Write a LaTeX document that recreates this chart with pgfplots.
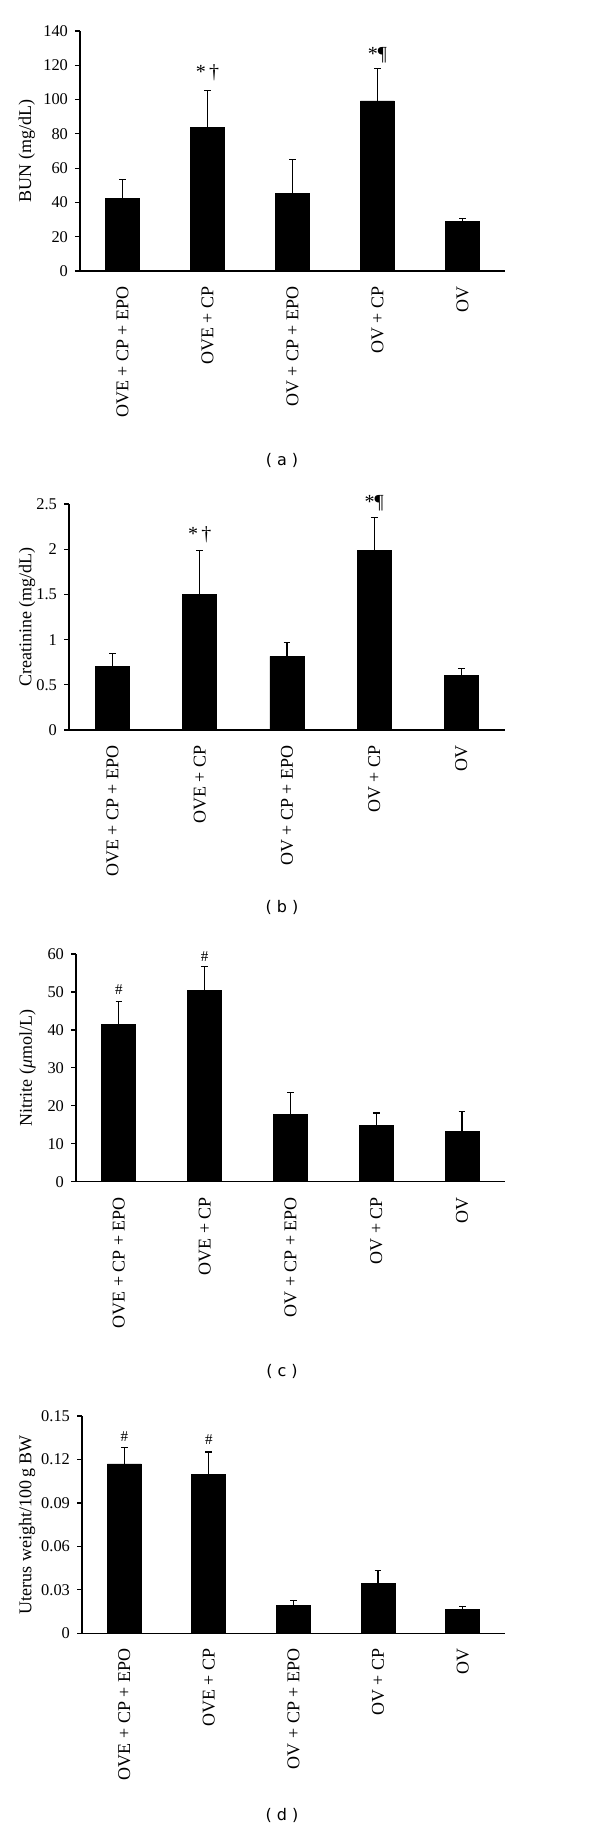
\documentclass[border=0pt]{standalone}
\usepackage{fontspec}
\setmainfont{Liberation Serif}
\newfontfamily\panelfont{DejaVu Sans}
\usepackage{pgfplots}
\pgfplotsset{compat=1.18}
\pgfplotsset{
  panel/.style={
    scale only axis,
    axis x line*=bottom, axis y line*=left,
    axis line style={-, line width=0.6pt, black},
    xmin=-0.5, xmax=4.5, ymin=0,
    xtick={0,1,2,3,4},
    xticklabels={OVE + CP + EPO, OVE + CP, OV + CP + EPO, OV + CP, OV},
    xtick style={draw=none},
    tick align=outside, major tick length=2.5pt,
    ytick style={line width=0.6pt, black},
    xticklabel style={rotate=90, anchor=east, font=\fontsize{9}{10}\selectfont, inner sep=0pt, inner xsep=5pt},
    yticklabel style={font=\fontsize{8.2}{9}\selectfont},
    ylabel style={font=\fontsize{9}{10}\selectfont, rotate=0, anchor=center},
    clip=false,
    ybar, bar width=17pt,
  },
  bars/.style={fill=black, draw=black,
    error bars/.cd, y dir=plus, y explicit,
    error bar style={line width=0.6pt, black},
    error mark options={rotate=90, mark size=1.7pt, line width=0.6pt, black}},
}
\begin{document}
\begin{tikzpicture}
\useasboundingbox (0,0) rectangle (300pt,-915pt);
% (a)
\begin{axis}[panel, at={(40pt,-135.5pt)}, anchor=south west,
  width=212.5pt, height=120pt, ymax=140,
  ytick={0,20,40,60,80,100,120,140},
  yticklabels={0,20,40,60,80,100,120,140},
  ylabel={BUN (mg/dL)},
  ylabel style={at={(axis description cs:-0.125,0.5)}}]
\addplot[bars] coordinates {(0,42.1) +- (0,11.5) (1,83.5) +- (0,21.9) (2,45.0) +- (0,19.9) (3,99.2) +- (0,18.9) (4,29.1) +- (0,1.6)};
\node[font=\fontsize{10}{11}\selectfont] at (axis cs:1,115.5) {*\,†};
\node[font=\fontsize{10}{11}\selectfont] at (axis cs:3,126) {*¶};
\end{axis}
\node[font=\panelfont\fontsize{8}{9}\selectfont] at (141pt,-230pt) {( a )};
% (b)
\begin{axis}[panel, at={(34.5pt,-365pt)}, anchor=south west,
  width=218pt, height=113pt, ymax=2.5,
  ytick={0,0.5,1,1.5,2,2.5},
  yticklabels={0,0.5,1,1.5,2,2.5},
  ylabel={Creatinine (mg/dL)},
  ylabel style={at={(axis description cs:-0.096,0.5)}}]
\addplot[bars] coordinates {(0,0.70) +- (0,0.148) (1,1.497) +- (0,0.49) (2,0.815) +- (0,0.155) (3,1.984) +- (0,0.366) (4,0.608) +- (0,0.074)};
\node[font=\fontsize{10}{11}\selectfont] at (axis cs:1,2.157) {*\,†};
\node[font=\fontsize{10}{11}\selectfont] at (axis cs:3,2.51) {*¶};
\end{axis}
\node[font=\panelfont\fontsize{8}{9}\selectfont] at (141pt,-453.5pt) {( b )};
% (c)
\begin{axis}[panel, at={(38pt,-590.85pt)}, anchor=south west,
  width=214.5pt, height=113.85pt, ymax=60,
  ytick={0,10,20,30,40,50,60},
  yticklabels={0,10,20,30,40,50,60},
  ylabel={Nitrite (\textit{μ}mol/L)},
  ylabel style={at={(axis description cs:-0.113,0.5)}}]
\addplot[bars] coordinates {(0,41.5) +- (0,5.9) (1,50.3) +- (0,6.4) (2,17.75) +- (0,5.75) (3,14.8) +- (0,3.3) (4,13.2) +- (0,5.4)};
\node[font=\fontsize{7.5}{8}\selectfont] at (axis cs:0,50.5) {\#};
\node[font=\fontsize{7.5}{8}\selectfont] at (axis cs:1,59.2) {\#};
\end{axis}
\node[font=\panelfont\fontsize{8}{9}\selectfont] at (141pt,-685.5pt) {( c )};
% (d)
\begin{axis}[panel, at={(41pt,-816.65pt)}, anchor=south west,
  width=211.5pt, height=108.65pt, ymax=0.15,
  ytick={0,0.03,0.06,0.09,0.12,0.15},
  yticklabels={0,0.03,0.06,0.09,0.12,0.15},
  ylabel={Uterus weight/100\,g BW},
  ylabel style={at={(axis description cs:-0.13,0.5)}}]
\addplot[bars] coordinates {(0,0.1169) +- (0,0.0115) (1,0.1097) +- (0,0.0154) (2,0.0193) +- (0,0.0032) (3,0.0343) +- (0,0.0092) (4,0.0166) +- (0,0.0018)};
\node[font=\fontsize{7.5}{8}\selectfont] at (axis cs:0,0.1355) {\#};
\node[font=\fontsize{7.5}{8}\selectfont] at (axis cs:1,0.1335) {\#};
\end{axis}
\node[font=\panelfont\fontsize{8}{9}\selectfont] at (141pt,-907.5pt) {( d )};
\end{tikzpicture}
\end{document}
